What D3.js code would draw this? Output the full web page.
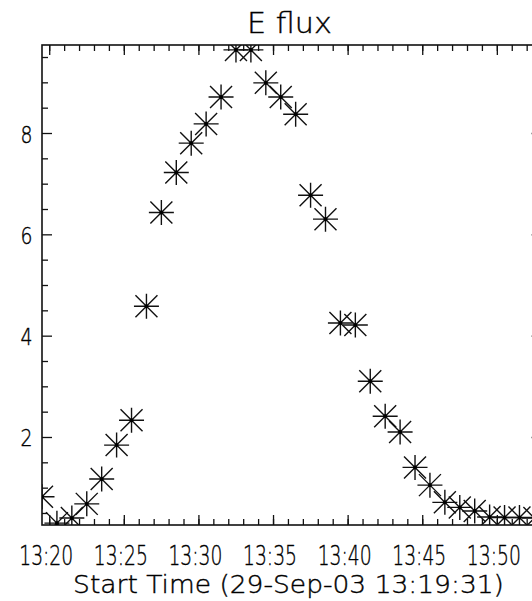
<!DOCTYPE html>
<html>
<head>
<meta charset="utf-8">
<script src="https://cdn.jsdelivr.net/npm/d3@7"></script>
<style>
  html, body { margin: 0; padding: 0; background: #fff; }
  svg { display: block; }
  text { font-family: "DejaVu Sans", sans-serif; fill: #000; stroke: #000; stroke-width: 0.4; }
</style>
</head>
<body>
<svg id="chart" width="532" height="601"></svg>
<script>
// Sample times (one reading per minute) and electron flux values
const times = [
  "13:19:31", "13:20:31", "13:21:31", "13:22:31", "13:23:31", "13:24:31",
  "13:25:31", "13:26:31", "13:27:31", "13:28:31", "13:29:31", "13:30:31",
  "13:31:31", "13:32:31", "13:33:31", "13:34:31", "13:35:31", "13:36:31",
  "13:37:31", "13:38:31", "13:39:31", "13:40:31", "13:41:31", "13:42:31",
  "13:43:31", "13:44:31", "13:45:31", "13:46:31", "13:47:31", "13:48:31",
  "13:49:31", "13:50:31", "13:51:31", "13:52:31"
];
const flux = [
  0.82, 0.30, 0.40, 0.68, 1.17, 1.84,
  2.33, 4.58, 6.43, 7.22, 7.80, 8.18,
  8.71, 9.64, 9.64, 8.99, 8.71, 8.37,
  6.77, 6.30, 4.25, 4.21, 3.10, 2.41,
  2.10, 1.40, 1.05, 0.71, 0.61, 0.54,
  0.42, 0.41, 0.41, 0.40
];

// Axis settings
const xDomain = ["13:19:31", "13:53:00"];
const yDomain = [0.263, 9.737];
const yMajorTicks = [2, 4, 6, 8];
const yMinorTicks = [0.5, 1, 1.5, 2.5, 3, 3.5, 4.5, 5, 5.5, 6.5, 7, 7.5, 8.5, 9, 9.5];
const titleText = "E flux";
const xTitleText = "Start Time (29-Sep-03 13:19:31)";

const parse = d3.timeParse("%H:%M:%S");
const fmt = d3.timeFormat("%H:%M");

const plot = { left: 42, right: 541.6, top: 45, bottom: 525 };
const majorLen = 10, minorLen = 6;

const svg = d3.select("#chart");

const x = d3.scaleTime()
  .domain(xDomain.map(parse))
  .range([plot.left, plot.right]);
const y = d3.scaleLinear()
  .domain(yDomain)
  .range([plot.bottom, plot.top]);

const data = times.map((t, i) => ({ t: parse(t), v: flux[i] }));

// clip region for the symbols
svg.append("defs").append("clipPath").attr("id", "plotClip")
  .append("rect")
  .attr("x", plot.left).attr("y", plot.top)
  .attr("width", plot.right - plot.left)
  .attr("height", plot.bottom - plot.top);

const axisColor = "#111";
const axisW = 1.6;

// x axes (bottom ticks point up, top ticks point down)
const xMajor = x.ticks(d3.timeMinute.every(5));
const xMinor = x.ticks(d3.timeMinute.every(1));

const xAxisBottom = d3.axisBottom(x)
  .tickValues(xMajor).tickSize(-majorLen).tickFormat("");
const xAxisTop = d3.axisTop(x)
  .tickValues(xMajor).tickSize(-majorLen).tickFormat("");
const xAxisBottomMinor = d3.axisBottom(x)
  .tickValues(xMinor).tickSize(-minorLen).tickFormat("");
const xAxisTopMinor = d3.axisTop(x)
  .tickValues(xMinor).tickSize(-minorLen).tickFormat("");

const yAxisLeft = d3.axisLeft(y)
  .tickValues(yMajorTicks).tickSize(-majorLen).tickFormat("");
const yAxisRight = d3.axisRight(y)
  .tickValues(yMajorTicks).tickSize(-majorLen).tickFormat("");
const yAxisLeftMinor = d3.axisLeft(y)
  .tickValues(yMinorTicks).tickSize(-minorLen).tickFormat("");
const yAxisRightMinor = d3.axisRight(y)
  .tickValues(yMinorTicks).tickSize(-minorLen).tickFormat("");

function addAxis(axis, tx, ty) {
  const g = svg.append("g")
    .attr("transform", `translate(${tx},${ty})`)
    .call(axis);
  g.select(".domain").remove();
  g.selectAll(".tick line").attr("stroke", axisColor).attr("stroke-width", 1.3);
  return g;
}
addAxis(xAxisBottomMinor, 0, plot.bottom);
addAxis(xAxisBottom, 0, plot.bottom);
addAxis(xAxisTopMinor, 0, plot.top);
addAxis(xAxisTop, 0, plot.top);
addAxis(yAxisLeftMinor, plot.left, 0);
addAxis(yAxisLeft, plot.left, 0);
addAxis(yAxisRightMinor, plot.right, 0);
addAxis(yAxisRight, plot.right, 0);

// frame
svg.append("rect")
  .attr("x", plot.left).attr("y", plot.top)
  .attr("width", plot.right - plot.left)
  .attr("height", plot.bottom - plot.top)
  .attr("fill", "none")
  .attr("stroke", axisColor)
  .attr("stroke-width", axisW);

// asterisk symbols
const star = "M0,-12.5V12.5M-12.5,0H12.5M-11,-11L11,11M-11,11L11,-11";
const marks = svg.append("g").attr("clip-path", "url(#plotClip)");
const pts = marks.selectAll("g.pt").data(data).join("g")
  .attr("class", "pt")
  .attr("transform", d => `translate(${x(d.t)},${y(d.v)})`);
pts.append("path")
  .attr("d", star)
  .attr("fill", "none")
  .attr("stroke", "#111")
  .attr("stroke-width", 1.4);
pts.append("circle")
  .attr("r", 1.9)
  .attr("fill", "#000");

// Place a text at (px, py) and squeeze it horizontally to a given width,
// keeping the glyph height set by the font size.
function placeText(sel, px, py, width, anchor) {
  sel.each(function (d, i) {
    const node = this;
    const w = node.getComputedTextLength();
    const sx = width / w;
    const X = typeof px === "function" ? px(d, i) : px;
    const Y = typeof py === "function" ? py(d, i) : py;
    d3.select(node)
      .attr("x", 0).attr("y", 0)
      .attr("text-anchor", anchor)
      .attr("transform", `translate(${X},${Y}) scale(${sx},1)`);
  });
}

// tick labels
const xLabels = svg.append("g").selectAll("text").data(xMajor).join("text")
  .attr("font-size", 26)
  .attr("font-weight", 300)
  .text(d => fmt(d));
placeText(xLabels, d => x(d) - 3, 565, 54, "middle");

const yLabels = svg.append("g").selectAll("text").data(yMajorTicks).join("text")
  .attr("font-size", 23)
  .attr("font-weight", 300)
  .text(d => d);
placeText(yLabels, 32.5, d => y(d) + 9.5, 12, "end");

// titles
const title = svg.append("text")
  .attr("font-size", 29)
  .attr("font-weight", 300)
  .text(titleText);
placeText(title, 289.5, 33, 85, "middle");

const xTitle = svg.append("text")
  .attr("font-size", 25)
  .attr("font-weight", 300)
  .text(xTitleText);
placeText(xTitle, 288.5, 593, 431, "middle");
</script>
</body>
</html>
